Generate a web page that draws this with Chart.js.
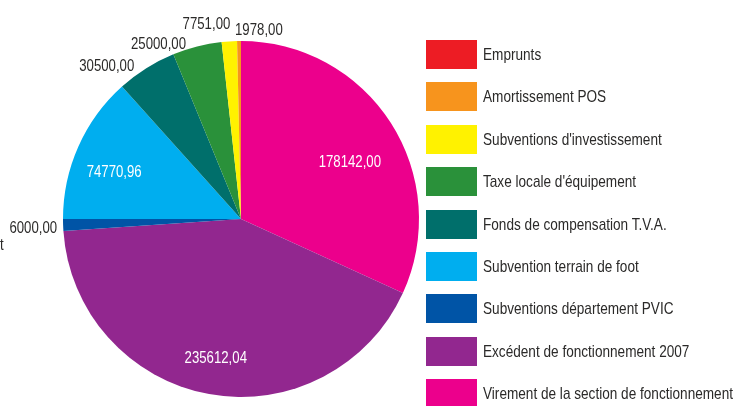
<!DOCTYPE html>
<html>
<head>
<meta charset="utf-8">
<script src="https://cdn.jsdelivr.net/npm/chart.js@4/dist/chart.umd.min.js"></script>
<style>
  html, body { margin: 0; padding: 0; background: #fff; }
  body { width: 733px; height: 406px; overflow: hidden; position: relative; }
  #wrap { position: absolute; left: 0; top: 0; width: 733px; height: 406px; }
  .leg { position: absolute; left: 426px; height: 29px; white-space: nowrap;
         font-family: "Liberation Sans", Arial, sans-serif;
         font-size: 17px; color: #2b2a29; }
  .leg .box { position: absolute; left: 0; top: 0; width: 51px; height: 29px; }
  .leg .txt { position: absolute; left: 57px; top: 0; line-height: 29px;
              transform: scaleX(0.8); transform-origin: 0 50%; }
  .cut { position: absolute; left: 0px; top: 236px; font-family: "Liberation Sans", sans-serif;
         font-size: 16.5px; color: #2b2a29; line-height: 16px;
         transform: scaleX(0.8); transform-origin: 0 50%; }
</style>
</head>
<body>
<div id="wrap"><canvas id="c" width="733" height="406"></canvas></div>
<div class="cut">t</div>
<script>
// Legend order (top to bottom)
const categories = [
  "Emprunts",
  "Amortissement POS",
  "Subventions d'investissement",
  "Taxe locale d'équipement",
  "Fonds de compensation T.V.A.",
  "Subvention terrain de foot",
  "Subventions département PVIC",
  "Excédent de fonctionnement 2007",
  "Virement de la section de fonctionnement"
];
const values = [0, 1978.00, 7751.00, 25000.00, 30500.00, 74770.96, 6000.00, 235612.04, 178142.00];
const valueLabels = ["", "1978,00", "7751,00", "25000,00", "30500,00", "74770,96", "6000,00", "235612,04", "178142,00"];
const colors = ["#ed1c24", "#f7941d", "#fff200", "#2a913a", "#006f6b", "#00aeef", "#0054a6", "#92278f", "#ec008c"];

// label placement style: mode, radius factor, align, dx, dy
const labelStyle = [
  null,
  {mode: "out", align: "left",  dx: -4,  dy: -11},
  {mode: "out", align: "right", dx: 1,   dy: -17},
  {mode: "out", align: "right", dx: -11, dy: -2.5},
  {mode: "out", align: "right", dx: -12, dy: -2},
  {mode: "in",  k: 0.78, dx: 0,  dy: 9.5},
  {mode: "out", align: "right", dx: -6,  dy: 3},
  {mode: "in",  k: 0.79, dx: 0,  dy: 1.6},
  {mode: "in",  k: 0.70, dx: 4,  dy: 11}
];

// Build legend in HTML
const LEG_TOP = 40, LEG_STEP = 42.375;
categories.forEach((name, i) => {
  const d = document.createElement("div");
  d.className = "leg";
  d.style.top = (LEG_TOP + i * LEG_STEP) + "px";
  d.innerHTML = '<div class="box" style="background:' + colors[i] + '"></div><div class="txt"></div>';
  d.querySelector(".txt").textContent = name;
  document.body.appendChild(d);
});

// Chart data: drawn clockwise from 12 o'clock, in reverse legend order
const chartLabels = categories.slice().reverse();
const chartValues = values.slice().reverse();
const chartColors = colors.slice().reverse();
const chartValueLabels = valueLabels.slice().reverse();
const chartLabelStyle = labelStyle.slice().reverse();

const SX = 0.8;
const valueLabelPlugin = {
  id: "valueLabels",
  afterDatasetsDraw(chart) {
    const ctx = chart.ctx;
    const meta = chart.getDatasetMeta(0);
    meta.data.forEach((arc, i) => {
      const st = chartLabelStyle[i];
      if (!st || !chartValues[i]) return;
      const p = arc.getProps(["x", "y", "startAngle", "endAngle", "outerRadius"], true);
      const mid = (p.startAngle + p.endAngle) / 2;
      let x, y;
      ctx.save();
      ctx.font = '16.5px "Liberation Sans", Arial, sans-serif';
      ctx.textBaseline = "middle";
      if (st.mode === "in") {
        const rr = p.outerRadius * st.k;
        x = p.x + Math.cos(mid) * rr + st.dx;
        y = p.y + Math.sin(mid) * rr + st.dy;
        ctx.fillStyle = "#ffffff";
        ctx.textAlign = "center";
      } else {
        x = p.x + Math.cos(mid) * p.outerRadius + st.dx;
        y = p.y + Math.sin(mid) * p.outerRadius + st.dy;
        ctx.fillStyle = "#2b2a29";
        ctx.textAlign = st.align;
      }
      ctx.translate(x, y);
      ctx.scale(SX, 1);
      ctx.fillText(chartValueLabels[i], 0, 0);
      ctx.restore();
    });
  }
};

new Chart(document.getElementById("c"), {
  type: "pie",
  data: {
    labels: chartLabels,
    datasets: [{
      data: chartValues,
      backgroundColor: chartColors,
      borderWidth: 0,
      hoverOffset: 0
    }]
  },
  options: {
    responsive: false,
    animation: false,
    devicePixelRatio: 1,
    layout: { padding: { left: 63, right: 314, top: 41, bottom: 9 } },
    plugins: {
      legend: { display: false },
      tooltip: { enabled: false }
    }
  },
  plugins: [valueLabelPlugin]
});
</script>
</body>
</html>
